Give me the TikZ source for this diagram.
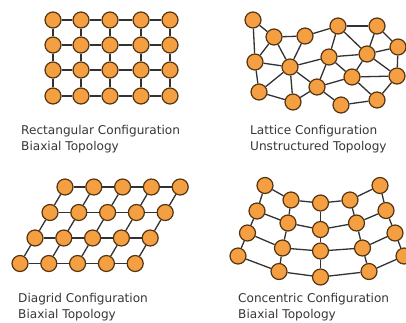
\documentclass[tikz,border=0pt]{standalone}
\usepackage{fontspec}
\setmainfont{DejaVu Sans}
\definecolor{nodefill}{RGB}{244,160,66}
\definecolor{nodeline}{RGB}{85,52,18}
\definecolor{edgecol}{RGB}{50,50,50}
\definecolor{txtcol}{RGB}{55,55,55}
\begin{document}
\begin{tikzpicture}[x=1pt,y=-1pt,
  dot/.style={circle, fill=nodefill, draw=nodeline, line width=1.2pt, minimum size=16pt, inner sep=0pt},
  link/.style={draw=edgecol, line width=1.3pt},
  lbl/.style={anchor=base west, inner sep=0pt, text=txtcol, font=\fontsize{12.1}{14}\selectfont}]
\clip (0,0) rectangle (406,322);
\fill[white] (0,0) rectangle (406,322);
% ---------- Rectangular ----------
\foreach \c/\x in {0/53,1/81,2/110,3/141,4/170}
  \foreach \r/\y in {0/20,1/45,2/70,3/96}
    \node[dot] (a\r\c) at (\x,\y) {};
\foreach \r in {0,1,2,3}
  \foreach \c/\n in {0/1,1/2,2/3,3/4}
    \draw[link] (a\r\c) -- (a\r\n);
\foreach \r/\n in {0/1,1/2,2/3}
  \foreach \c in {0,1,2,3,4}
    \draw[link] (a\r\c) -- (a\n\c);
\node[lbl] (t1a) at (21,134) {Rectangular Configuration};
\node[lbl] (t1b) at (21,150.5) {Biaxial Topology};
% ---------- Lattice ----------
\node[dot] (A) at (253,20) {};
\node[dot] (B) at (274,37) {};
\node[dot] (C) at (305,36) {};
\node[dot] (D) at (338,26) {};
\node[dot] (E) at (377,26) {};
\node[dot] (F) at (398,47) {};
\node[dot] (G) at (255,62) {};
\node[dot] (H) at (290,67) {};
\node[dot] (I) at (329,57) {};
\node[dot] (J) at (367,54) {};
\node[dot] (K) at (352,77) {};
\node[dot] (L) at (397,76) {};
\node[dot] (M) at (259,92) {};
\node[dot] (N) at (317,87) {};
\node[dot] (O) at (293,102) {};
\node[dot] (P) at (341,105) {};
\node[dot] (Q) at (377,100) {};
\foreach \u/\v in {A/B,A/G,B/C,B/G,B/H,C/D,C/H,D/E,D/I,D/J,E/F,E/J,F/J,F/L,
  G/H,G/M,H/I,H/M,H/O,H/N,I/J,I/N,I/K,J/K,J/L,K/L,K/N,K/Q,L/Q,M/O,O/N,N/P,P/Q}
  \draw[link] (\u) -- (\v);
\node[lbl] (t2a) at (250,134) {Lattice Configuration};
\node[lbl] (t2b) at (250,150.5) {Unstructured Topology};
% ---------- Diagrid ----------
\foreach \r in {0,1,2,3}
  \foreach \c in {0,1,2,3,4}
    \node[dot] (d\r\c) at ({65+28.8*\c-15*\r},{187+25.5*\r}) {};
\foreach \r in {0,1,2,3}
  \foreach \c/\n in {0/1,1/2,2/3,3/4}
    \draw[link] (d\r\c) -- (d\r\n);
\foreach \r/\n in {0/1,1/2,2/3}
  \foreach \c in {0,1,2,3,4}
    \draw[link] (d\r\c) -- (d\n\c);
\node[lbl] (t3a) at (18,302) {Diagrid Configuration};
\node[lbl] (t3b) at (18,318) {Biaxial Topology};
% ---------- Concentric ----------
\node[dot] (c00) at (265,185.5) {};
\node[dot] (c01) at (291,200) {};
\node[dot] (c02) at (320.5,203) {};
\node[dot] (c03) at (350,200) {};
\node[dot] (c04) at (380,185.5) {};
\node[dot] (c10) at (257,211) {};
\node[dot] (c11) at (288,223) {};
\node[dot] (c12) at (320.5,229.5) {};
\node[dot] (c13) at (356.5,223) {};
\node[dot] (c14) at (386,210.5) {};
\node[dot] (c20) at (247.5,233) {};
\node[dot] (c21) at (282.5,248) {};
\node[dot] (c22) at (320.5,251) {};
\node[dot] (c23) at (362.5,248) {};
\node[dot] (c24) at (395,233) {};
\node[dot] (c30) at (238,256) {};
\node[dot] (c31) at (279,271.5) {};
\node[dot] (c32) at (320.5,277) {};
\node[dot] (c33) at (369,271.5) {};
\node[dot] (c34) at (404,256) {};
\foreach \r in {0,1,2,3}
  \foreach \c/\n in {0/1,1/2,2/3,3/4}
    \draw[link] (c\r\c) -- (c\r\n);
\foreach \r/\n in {0/1,1/2,2/3}
  \foreach \c in {0,1,2,3,4}
    \draw[link] (c\r\c) -- (c\n\c);
\node[lbl] (t4a) at (238,302) {Concentric Configuration};
\node[lbl] (t4b) at (238,318) {Biaxial Topology};
\end{tikzpicture}
\end{document}
